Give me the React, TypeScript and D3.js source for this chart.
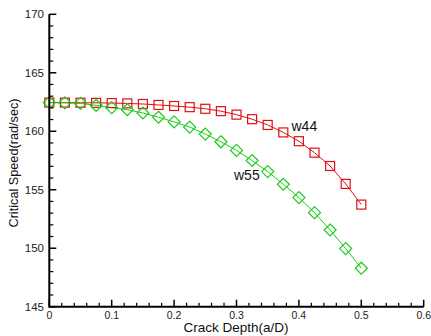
import React from "react";
import * as d3 from "d3";

const crackDepth = [0, 0.025, 0.05, 0.075, 0.1, 0.125, 0.15, 0.175, 0.2, 0.225, 0.25, 0.275, 0.3, 0.325, 0.35, 0.375, 0.4, 0.425, 0.45, 0.475, 0.5];
const w44 = [162.45, 162.45, 162.44, 162.43, 162.41, 162.38, 162.33, 162.25, 162.16, 162.06, 161.92, 161.72, 161.42, 161.03, 160.54, 159.9, 159.15, 158.17, 157.03, 155.5, 153.73];
const w55 = [162.45, 162.43, 162.38, 162.22, 162.02, 161.84, 161.56, 161.2, 160.8, 160.36, 159.76, 159.1, 158.36, 157.5, 156.55, 155.47, 154.33, 153.04, 151.56, 149.97, 148.29];
const xTicks = [0, 0.1, 0.2, 0.3, 0.4, 0.5, 0.6];
const yTicks = [145, 150, 155, 160, 165, 170];

export default function App() {
  const W = 431, H = 336;
  const x = d3.scaleLinear().domain([0, 0.6]).range([49.3, 423.7]);
  const y = d3.scaleLinear().domain([145, 170]).range([306.7, 14.3]);
  const font = "'Liberation Sans', Arial, Helvetica, sans-serif";
  const line = d3.line<number>().x((_, i) => x(crackDepth[i])).y((d) => y(d));
  const xMinor = d3.range(0, 0.6001, 0.02).filter((v) => Math.abs(v * 10 - Math.round(v * 10)) > 1e-6);
  const yMinor = d3.range(145, 170.001, 1).filter((v) => v % 5 !== 0);
  const red = "#e01010";
  const green = "#1ccc1c";
  const diamond = (cx: number, cy: number) => `M${cx},${cy - 6}L${cx + 6},${cy}L${cx},${cy + 6}L${cx - 6},${cy}Z`;
  return (
    <svg width={W} height={H} style={{ position: "absolute", left: 0, top: 0, background: "#fff" }}>
      <rect x={0} y={0} width={W} height={H} fill="#fff" />
      {/* series */}
      <path d={line(w44) || ""} fill="none" stroke={red} strokeWidth={1} />
      <path d={line(w55) || ""} fill="none" stroke={green} strokeWidth={1} />
      {w44.map((v, i) => (
        <rect key={"s" + i} x={x(crackDepth[i]) - 4.5} y={y(v) - 4.5} width={9} height={9} fill="none" stroke={red} strokeWidth={1.2} />
      ))}
      {w55.map((v, i) => (
        <path key={"d" + i} d={diamond(x(crackDepth[i]), y(v))} fill="none" stroke={green} strokeWidth={1.2} />
      ))}
      {/* axes */}
      <line x1={x(0)} x2={x(0.6)} y1={y(145)} y2={y(145)} stroke="#000" strokeWidth={2} />
      <line x1={x(0)} x2={x(0)} y1={y(145) + 1} y2={y(170)} stroke="#000" strokeWidth={2} />
      {xTicks.map((t) => (
        <g key={"xt" + t}>
          <line x1={x(t)} x2={x(t)} y1={y(145)} y2={y(145) - 7} stroke="#000" strokeWidth={1.5} />
          <text x={x(t)} y={318.5} fontFamily={font} fontSize={10.5} textAnchor="middle" fill="#222">{t === 0 ? "0" : t.toString()}</text>
        </g>
      ))}
      {xMinor.map((t, i) => (
        <line key={"xm" + i} x1={x(t)} x2={x(t)} y1={y(145)} y2={y(145) - 4} stroke="#000" strokeWidth={1.2} />
      ))}
      {yTicks.map((t) => (
        <g key={"yt" + t}>
          <line x1={x(0)} x2={x(0) + 7} y1={y(t)} y2={y(t)} stroke="#000" strokeWidth={1.5} />
          <text x={44} y={y(t) + 4} fontFamily={font} fontSize={11.5} textAnchor="end" fill="#222">{t}</text>
        </g>
      ))}
      {yMinor.map((t, i) => (
        <line key={"ym" + i} x1={x(0)} x2={x(0) + 4} y1={y(t)} y2={y(t)} stroke="#000" strokeWidth={1.2} />
      ))}
      {/* labels */}
      <text x={236} y={332} fontFamily={font} fontSize={13.5} textAnchor="middle" fill="#111">Crack Depth(a/D)</text>
      <text transform={`translate(18,163) rotate(-90)`} fontFamily={font} fontSize={12.7} textAnchor="middle" fill="#111">Critical Speed(rad/sec)</text>
      <text x={291.5} y={130.5} fontFamily={font} fontSize={14} fill="#111">w44</text>
      <text x={234} y={179.5} fontFamily={font} fontSize={14} fill="#111">w55</text>
    </svg>
  );
}
